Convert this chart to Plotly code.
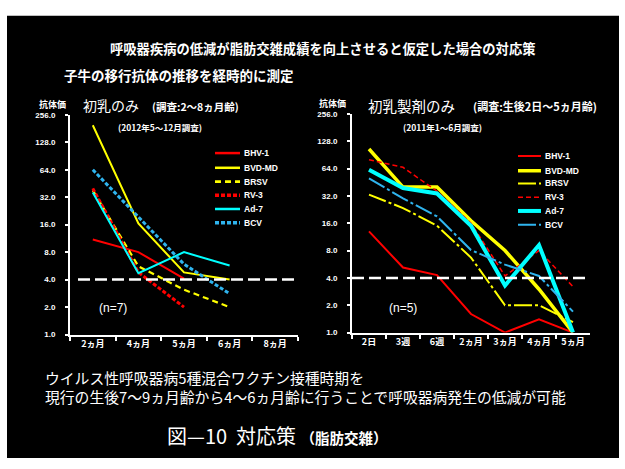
import math
import plotly.graph_objects as go

W, H = 625, 469

# ---------------- data ----------------
SERIES = ["BHV-1", "BVD-MD", "BRSV", "RV-3", "Ad-7", "BCV"]

# left chart: 初乳のみ
L_CATS = ["2ヵ月", "4ヵ月", "5ヵ月", "6ヵ月", "8ヵ月"]
L_BHV1 = [11, 8.0, 4.1, None, None]
L_BVDMD = [197, 16.5, 4.8, 4.0, None]
L_BRSV = [38, 5.6, 3.1, 2.0, None]
L_RV3 = [40, 4.8, 2.0, None, None]
L_AD7 = [36, 4.7, 8.0, 5.7, None]
L_BCV = [64, 19.5, 5.9, 2.8, None]

# right chart: 初乳製剤のみ
R_CATS = ["2日", "3週", "6週", "2ヵ月", "3ヵ月", "4ヵ月", "5ヵ月"]
R_BHV1 = [13, 5.2, 4.3, 1.6, 1.0, 1.4, 1.0]
R_BVDMD = [105, 40, 40, 17, 8.0, 3.0, 1.0]
R_BRSV = [33, 23.5, 15, 6.7, 2.0, 2.0, 1.3]
R_RV3 = [80, 66, 36, 16, 4.2, 8.0, 3.2]
R_AD7 = [62, 39, 34, 15, 3.3, 9.2, 1.0]
R_BCV = [50, 30, 19, 8.1, 5.6, 4.2, 1.7]

Y_TICKS = [1, 2, 4, 8, 16, 32, 64, 128, 256]
Y_TICKTEXT = ["1.0", "2.0", "4.0", "8.0", "16.0", "32.0", "64.0", "128.0", "256.0"]
THRESHOLD = 4.0

# ---------------- styles ----------------
COLORS = ["#FF0000", "#FFFF00", "#FFFF00", "#FF0000", "#00FFFF", "#2FB4EE"]
L_WIDTH = [2, 2, 2.2, 3, 2, 3]
L_DASH = ["solid", "solid", "6px,4px", "4px,2px", "solid", "4px,2px"]
R_WIDTH = [2, 3.5, 2, 1.5, 4, 2]
R_DASH = ["solid", "solid", "18px,3px,3px,3px", "5px,3px", "solid", "18px,3px,3px,3px"]

CJK = "Noto Sans CJK JP"
LAT = "Liberation Sans"


def px(x):
    return x / W


def py(y):
    return 1 - y / H


fig = go.Figure()

left_vals = [L_BHV1, L_BVDMD, L_BRSV, L_RV3, L_AD7, L_BCV]
right_vals = [R_BHV1, R_BVDMD, R_BRSV, R_RV3, R_AD7, R_BCV]

for i, name in enumerate(SERIES):
    fig.add_trace(go.Scatter(
        x=L_CATS, y=left_vals[i], name=name, mode="lines",
        line=dict(color=COLORS[i], width=L_WIDTH[i], dash=L_DASH[i]),
        xaxis="x", yaxis="y", showlegend=False, connectgaps=False))
for i, name in enumerate(SERIES):
    fig.add_trace(go.Scatter(
        x=R_CATS, y=right_vals[i], name=name, mode="lines",
        line=dict(color=COLORS[i], width=R_WIDTH[i], dash=R_DASH[i]),
        xaxis="x2", yaxis="y2", showlegend=False))

xcommon = dict(type="category", showline=True, linecolor="white", linewidth=2,
               ticks="outside", tickson="boundaries", ticklen=4, tickwidth=2,
               tickcolor="white", showgrid=False, zeroline=False,
               tickfont=dict(family=CJK, size=9, color="white", weight="bold"))
ycommon = dict(type="log", range=[0, math.log10(256)], tickvals=Y_TICKS,
               ticktext=Y_TICKTEXT, showline=True, linecolor="white", linewidth=2,
               ticks="outside", ticklen=3, tickwidth=2, tickcolor="white",
               showgrid=False, zeroline=False, ticklabelstandoff=8,
               tickfont=dict(family=LAT, size=8, color="white", weight="bold"))

fig.update_layout(
    width=W, height=H, autosize=False,
    margin=dict(l=0, r=0, t=0, b=0),
    paper_bgcolor="white", plot_bgcolor="rgba(0,0,0,0)",
    showlegend=False,
    xaxis=dict(xcommon, domain=[px(70), px(298)], anchor="y",
               categoryarray=L_CATS, categoryorder="array", range=[-0.5, len(L_CATS) - 0.5]),
    yaxis=dict(ycommon, domain=[py(337), py(113)], anchor="x"),
    xaxis2=dict(xcommon, domain=[px(352), px(590)], anchor="y2",
                categoryarray=R_CATS, categoryorder="array", range=[-0.5, len(R_CATS) - 0.5]),
    yaxis2=dict(ycommon, domain=[py(335), py(112)], anchor="x2"),
)

shapes = []
# black panel
shapes.append(dict(type="rect", xref="paper", yref="paper", x0=px(7), x1=px(619),
                   y0=py(463), y1=py(12), fillcolor="black", line=dict(width=0), layer="below"))
# threshold lines
shapes.append(dict(type="line", xref="x domain", yref="y", x0=0.035, x1=0.99,
                   y0=THRESHOLD, y1=THRESHOLD, line=dict(color="white", width=2.5, dash="12px,5px")))
shapes.append(dict(type="line", xref="x2 domain", yref="y2", x0=0.0, x1=1.0,
                   y0=THRESHOLD, y1=THRESHOLD, line=dict(color="white", width=2.5, dash="12px,5px")))

annotations = []


def ann(text, x, y, size, family=CJK, bold=False, xanchor="left", yanchor="middle",
        color="white", align="left"):
    annotations.append(dict(text=text, x=px(x), y=py(y), xref="paper", yref="paper",
                            xanchor=xanchor, yanchor=yanchor, showarrow=False, align=align,
                            font=dict(family=family, size=size, color=color,
                                      weight="bold" if bold else "normal")))


# manual legends (compact rows as in the reference)
L_LEG_Y = [152, 167, 181, 195, 209, 223]
R_LEG_Y = [155, 170, 183, 197, 211, 225]
for i, name in enumerate(SERIES):
    shapes.append(dict(type="line", xref="paper", yref="paper", x0=px(215), x1=px(240),
                       y0=py(L_LEG_Y[i]), y1=py(L_LEG_Y[i]),
                       line=dict(color=COLORS[i], width=L_WIDTH[i] + 0.5, dash=L_DASH[i])))
    ann(name, 242, L_LEG_Y[i], 8.5, family=LAT, bold=True)
    shapes.append(dict(type="line", xref="paper", yref="paper", x0=px(518), x1=px(541),
                       y0=py(R_LEG_Y[i]), y1=py(R_LEG_Y[i]),
                       line=dict(color=COLORS[i], width=R_WIDTH[i], dash=R_DASH[i])))
    ann(name, 543, R_LEG_Y[i], 8.5, family=LAT, bold=True)

# texts
ann("呼吸器疾病の低減が脂肪交雑成績を向上させると仮定した場合の対応策", 323, 45, 13.3, bold=True, xanchor="center")
ann("子牛の移行抗体の推移を経時的に測定", 62, 72, 13.5, bold=True)

ann("抗体価", 37, 102, 9, bold=True)
ann("初乳のみ", 81, 103, 14)
ann("(調査:2～8ヵ月齢)", 150, 105, 10.5, bold=True)
ann("(2012年5～12月調査)", 116, 125, 8.5, bold=True)
ann("(n=7)", 97, 310, 12, family=LAT)

ann("抗体価", 317, 101, 9, bold=True)
ann("初乳製剤のみ", 366, 103, 14.5)
ann("(調査:生後2日～5ヵ月齢)", 471, 104, 11, bold=True)
ann("(2011年1～6月調査)", 401, 125, 8.5, bold=True)
ann("(n=5)", 387, 310, 12, family=LAT)

ann("ウイルス性呼吸器病5種混合ワクチン接種時期を<br>"
    "現行の生後7～9ヵ月齢から4～6ヵ月齢に行うことで呼吸器病発生の低減が可能",
    43, 390, 14.8)
ann("図—10  対応策 <span style='font-size:14.5px'><b>（脂肪交雑）</b></span>", 277, 440, 20,
    xanchor="center")

fig.update_layout(shapes=shapes, annotations=annotations)
fig.write_html("out.html")
